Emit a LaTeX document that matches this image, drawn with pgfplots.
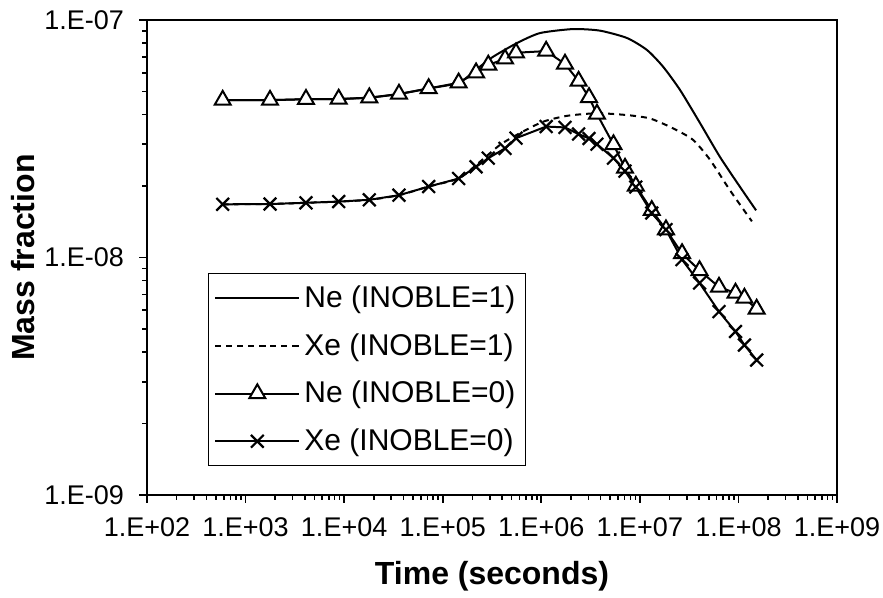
\documentclass[border=0pt]{standalone}
\usepackage{fontspec}
\setmainfont{Liberation Sans}
\usepackage{pgfplots}
\pgfplotsset{compat=1.18}

\begin{document}
\begin{tikzpicture}
\begin{loglogaxis}[
    scale only axis,
    width=345pt, height=237.5pt,
    xmin=1e2, xmax=1e9,
    ymin=1e-9, ymax=1e-7,
    xtick={1e2,1e3,1e4,1e5,1e6,1e7,1e8,1e9},
    xticklabels={1.E+02,1.E+03,1.E+04,1.E+05,1.E+06,1.E+07,1.E+08,1.E+09},
    ytick={1e-9,1e-8,1e-7},
    yticklabels={1.E-09,1.E-08,1.E-07},
    tick align=outside,
    xtick pos=left, ytick pos=left,
    major tick length=4pt, minor tick length=2.5pt,
    tick style={black, line width=0.8pt},
    axis line style={line width=1.1pt},
    ticklabel style={font=\fontsize{13.5}{13.5}\selectfont},
    xticklabel style={yshift=-4pt},
    yticklabel style={xshift=-4pt},
    xlabel={\bfseries Time (seconds)},
    ylabel={\bfseries Mass fraction},
    label style={font=\fontsize{16}{16}\selectfont},
    xlabel style={yshift=-5pt},
    ylabel style={yshift=-2pt},
    legend style={at={(rel axis cs:0.088,0.467)}, anchor=north west,
        draw=black, line width=0.5pt, fill=white,
        font=\fontsize{15}{16}\selectfont,
        row sep=7.5pt, inner xsep=3pt, inner ysep=4pt},
    legend cell align=left,
    legend image code/.code={\draw[mark repeat=2,mark phase=2,#1]
        plot coordinates {(0cm,0cm) (0.74cm,0cm) (1.48cm,0cm)};},
]
% Ne (INOBLE=1)
\addplot[black, line width=1pt, smooth, tension=0.4] coordinates {
    (586,4.60e-8) (1770,4.60e-8) (4100,4.64e-8) (8800,4.65e-8)
    (1.8e4,4.71e-8) (3.6e4,4.88e-8) (7.2e4,5.15e-8) (1.45e5,5.44e-8)
    (2.2e5,6.2e-8) (3.24e5,7.0e-8) (5.68e5,8.0e-8) (9.7e5,8.81e-8)
    (2.1e6,9.16e-8) (3.94e6,9.02e-8) (7.4e6,8.4e-8) (1.18e7,7.48e-8)
    (1.72e7,6.36e-8) (2.56e7,5.07e-8) (4.08e7,3.68e-8) (6.5e7,2.65e-8)
    (1.04e8,1.98e-8) (1.51e8,1.58e-8)
};
% Xe (INOBLE=1)
\addplot[black, line width=1pt, dash pattern=on 3pt off 2.5pt, smooth, tension=0.4] coordinates {
    (586,1.675e-8) (1770,1.68e-8) (4100,1.70e-8) (8800,1.72e-8)
    (1.8e4,1.75e-8) (3.6e4,1.83e-8) (7.2e4,1.99e-8) (1.45e5,2.15e-8)
    (2.18e5,2.45e-8) (3.81e5,2.98e-8) (6.08e5,3.34e-8) (1.04e6,3.73e-8)
    (1.82e6,3.95e-8) (3.67e6,4.05e-8) (7.4e6,3.98e-8) (1.27e7,3.85e-8)
    (2.17e7,3.50e-8) (3.46e7,3.13e-8) (5.15e7,2.58e-8) (8.2e7,1.92e-8)
    (1.37e8,1.42e-8)
};
% Ne (INOBLE=0)
\addplot[black, line width=1pt, mark=triangle*, mark size=4.6pt,
    mark options={fill=white, solid, line width=1pt}] coordinates {
    (586,4.60e-8) (1770,4.60e-8) (4100,4.64e-8) (8800,4.65e-8)
    (1.8e4,4.71e-8) (3.6e4,4.88e-8) (7.2e4,5.15e-8) (1.45e5,5.44e-8)
    (2.18e5,6.0e-8) (2.9e5,6.47e-8) (4.29e5,6.86e-8) (5.54e5,7.28e-8)
    (1.12e6,7.4e-8) (1.74e6,6.53e-8) (2.39e6,5.53e-8) (3.05e6,4.72e-8)
    (3.67e6,4.02e-8) (5.4e6,2.99e-8) (7.07e6,2.38e-8) (9.1e6,2.0e-8)
    (1.32e7,1.58e-8) (1.84e7,1.31e-8) (2.68e7,1.04e-8) (4.03e7,8.82e-9)
    (6.35e7,7.51e-9) (9.34e7,7.09e-9) (1.15e8,6.75e-9) (1.53e8,6.07e-9)
};
% Xe (INOBLE=0)
\addplot[black, line width=1pt, mark=x, mark size=4.5pt,
    mark options={solid, line width=1.1pt}] coordinates {
    (586,1.675e-8) (1770,1.68e-8) (4100,1.70e-8) (8800,1.72e-8)
    (1.8e4,1.75e-8) (3.6e4,1.83e-8) (7.2e4,1.99e-8) (1.45e5,2.15e-8)
    (2.18e5,2.41e-8) (2.9e5,2.62e-8) (4.29e5,2.88e-8) (5.54e5,3.18e-8)
    (1.12e6,3.56e-8) (1.74e6,3.53e-8) (2.39e6,3.31e-8) (3.05e6,3.17e-8)
    (3.67e6,3.0e-8) (5.4e6,2.62e-8) (7.07e6,2.31e-8) (9.1e6,1.98e-8)
    (1.32e7,1.54e-8) (1.84e7,1.31e-8) (2.68e7,9.8e-9) (4.03e7,7.81e-9)
    (6.35e7,5.92e-9) (9.34e7,4.88e-9) (1.15e8,4.28e-9) (1.53e8,3.70e-9)
};
\legend{Ne (INOBLE=1), Xe (INOBLE=1), Ne (INOBLE=0), Xe (INOBLE=0)}
\end{loglogaxis}
\pgfresetboundingbox
\useasboundingbox (-73.5pt,-51.5pt) rectangle (368pt,247.5pt);
\end{tikzpicture}
\end{document}
